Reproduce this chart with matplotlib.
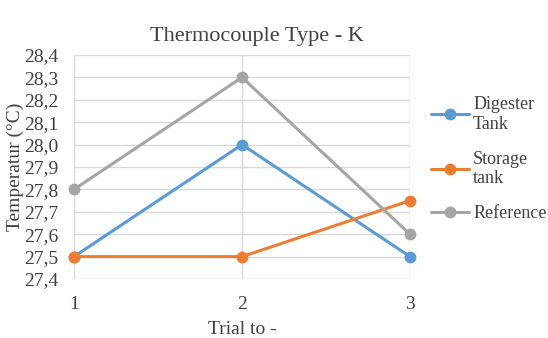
import matplotlib
matplotlib.use("Agg")
import matplotlib.pyplot as plt
from matplotlib.ticker import FuncFormatter

plt.rcParams["font.family"] = ["Liberation Serif", "DejaVu Serif"]

trials = [1, 2, 3]
digester = [27.5, 28.0, 27.5]
storage = [27.5, 27.5, 27.75]
reference = [27.8, 28.3, 27.6]
labels = ["Digester\nTank", "Storage\ntank", "Reference"]
colors = ["#5B9BD5", "#ED7D31", "#A5A5A5"]

fig = plt.figure(figsize=(5.48, 3.38), dpi=100)
ax = fig.add_axes([74 / 548, 1 - 279 / 338, (410 - 74) / 548, (279 - 55) / 338])

for vals, lab, c in zip([digester, storage, reference], labels, colors):
    ax.plot(trials, vals, color=c, lw=2.2, marker="o", ms=7.5, label=lab,
            solid_capstyle="round", clip_on=False, zorder=3)

ax.set_xlim(1, 3)
ax.set_ylim(27.4, 28.4)
ax.set_xticks(trials)
ax.set_yticks([27.4 + 0.1 * i for i in range(11)])
ax.yaxis.set_major_formatter(FuncFormatter(lambda v, p: f"{v:.1f}".replace(".", ",")))
ax.grid(True, color="#d9d9d9", lw=1)
ax.set_axisbelow(True)
for s in ax.spines.values():
    s.set_visible(False)
ax.tick_params(length=0, labelsize=14, colors="#404040")
ax.tick_params(axis="y", pad=11)
ax.tick_params(axis="x", pad=12)

# title is centred on the whole chart area, not just the plot
ax.set_title("Thermocouple Type - K", fontsize=16, color="#404040", pad=10, x=0.545)
ax.set_xlabel("Trial to -", fontsize=14, color="#404040", labelpad=6)
ax.set_ylabel("Temperatur (°C)", fontsize=14, color="#404040", labelpad=0)

leg = ax.legend(loc="center left", bbox_to_anchor=(1.04, 0.535), frameon=False,
                fontsize=13, labelcolor="#404040", handlelength=2.1,
                labelspacing=1.0, handletextpad=0.25, borderaxespad=0)

fig.savefig("out.png", dpi=100, facecolor="white")
